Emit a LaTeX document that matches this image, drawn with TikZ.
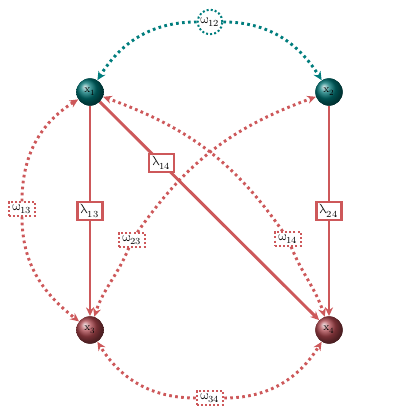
\documentclass[tikz,border=0pt]{standalone}
\usepackage{unicode-math}
\setmathfont{Latin Modern Math}
\usetikzlibrary{arrows.meta}
\definecolor{ered}{RGB}{205,88,90}
\definecolor{eteal}{RGB}{0,125,125}
\definecolor{bred}{RGB}{170,68,75}
\definecolor{bteal}{RGB}{0,115,115}
\begin{document}
\begin{tikzpicture}[x=0.75pt,y=0.75pt,
  ballT/.style={circle, minimum size=20.5pt, inner sep=0pt, shading=ball, ball color=bteal, font=\footnotesize, text=black},
  ballR/.style={circle, minimum size=20.5pt, inner sep=0pt, shading=ball, ball color=bred, font=\footnotesize, text=black},
  lam/.style={rectangle, draw=ered, line width=1.7pt, fill=white, inner xsep=2.5pt, inner ysep=2pt, solid},
  om/.style={rectangle, draw=ered, line width=1.5pt, dash pattern=on 1.5pt off 1.6pt, fill=white, inner xsep=2.5pt, inner ysep=1.5pt},
  omc/.style={circle, draw=eteal, line width=1.5pt, dash pattern=on 1.5pt off 1.6pt, fill=white, inner sep=0.8pt},
  solidE/.style={draw=ered, line width=2.2pt, -{Stealth[length=6.5pt,width=6pt]}},
  dotE/.style={draw=ered, line width=2.2pt, dash pattern=on 2pt off 2.5pt, -{Stealth[length=6.5pt,width=6pt]}},
  dotT/.style={dotE, draw=eteal},
]
\useasboundingbox (0,0) rectangle (420,420);

% spheres
\node[ballT] (x1) at (90,328) {$\mathrm{x}_1$};
\node[ballT] (x2) at (329,328) {$\mathrm{x}_2$};
\node[ballR] (x3) at (90,90) {$\mathrm{x}_3$};
\node[ballR] (x4) at (329,90) {$\mathrm{x}_4$};

% omega labels
\node[omc] (w12) at (210,398) {$\upomega_{12}$};
\node[om] (w34) at (210,22) {$\upomega_{34}$};
\node[om] (w13) at (22,211) {$\upomega_{13}$};
\node[om] (w23) at (132,180) {$\upomega_{23}$};
\node[om] (w14) at (288,181) {$\upomega_{14}$};

% dotted omega connectors
\draw[dotT] (w12) to[out=180,in=58] (x1);
\draw[dotT] (w12) to[out=0,in=122] (x2);
\draw[dotE] (w34) to[out=180,in=-58] (x3);
\draw[dotE] (w34) to[out=0,in=-122] (x4);
\draw[dotE] (w13) to[out=90,in=212] (x1);
\draw[dotE] (w13) to[out=-90,in=142] (x3);
\draw[dotE] (w23) to[out=55,in=200] (x2);
\draw[dotE] (w23) to[out=-112,in=72] (x3);
\draw[dotE] (w14) to[out=125,in=-20] (x1);
\draw[dotE] (w14) to[out=-68,in=108] (x4);

% solid lambda connectors
\draw[solidE] (x1) -- node[lam] (l13) {$\uplambda_{13}$} (x3);
\draw[solidE] (x1) -- node[lam, pos=0.28] (l14) {$\uplambda_{14}$} (x4);
\draw[solidE] (x2) -- node[lam] (l24) {$\uplambda_{24}$} (x4);

% redraw spheres on top
\node[ballT] at (x1) {$\mathrm{x}_1$};
\node[ballT] at (x2) {$\mathrm{x}_2$};
\node[ballR] at (x3) {$\mathrm{x}_3$};
\node[ballR] at (x4) {$\mathrm{x}_4$};
\end{tikzpicture}
\end{document}
